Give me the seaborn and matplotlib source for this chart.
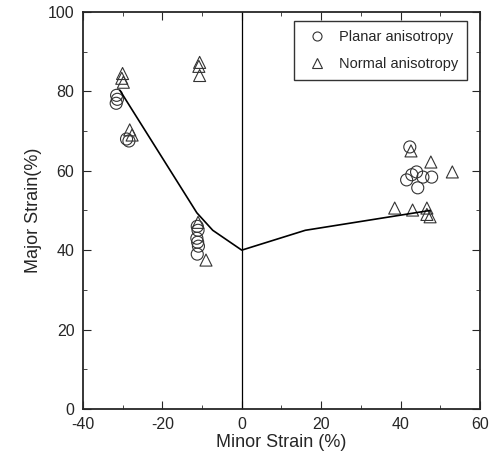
import numpy as np
import pandas as pd
import seaborn as sns
import matplotlib.pyplot as plt

# Planar anisotropy (circles)
planar_x = [-31.5, -31.3, -31.6, -29.0, -28.4, -11.2, -11.0, -11.3, -11.1, -10.9, -11.2,
            42.3, 41.5, 42.8, 44.0, 45.6, 47.8, 44.3]
planar_y = [79.0, 78.0, 77.0, 68.0, 67.5, 46.0, 45.0, 43.0, 42.0, 41.0, 39.0,
            66.0, 57.7, 59.0, 59.7, 58.4, 58.4, 55.7]

# Normal anisotropy (triangles)
normal_x = [-30.0, -30.2, -29.8, -28.2, -27.6, -10.6, -10.8, -10.6, -11.0, -9.0,
            42.6, 47.6, 53.0, 38.5, 43.0, 46.6, 47.4, 46.6]
normal_y = [84.5, 83.3, 82.3, 70.3, 69.0, 87.3, 86.3, 84.0, 47.0, 37.5,
            65.0, 62.2, 59.7, 50.6, 50.1, 50.6, 48.4, 49.0]

# forming limit curve
curve_x = [-30.7, -11.3, -7.3, 0.0, 16.0, 47.4]
curve_y = [80.3, 49.4, 45.0, 40.0, 45.0, 50.0]

df = pd.DataFrame({
    'minor': planar_x + normal_x,
    'major': planar_y + normal_y,
    'type': ['Planar anisotropy'] * len(planar_x) + ['Normal anisotropy'] * len(normal_x),
})

sns.set_style("ticks")
plt.rcParams['font.family'] = ['Liberation Sans', 'DejaVu Sans']
plt.rcParams['axes.unicode_minus'] = False

fig = plt.figure(figsize=(4.96, 4.61), dpi=100)
ax = fig.add_axes([0.167, 0.113, 0.801, 0.861])

ax.axvline(0, color='black', lw=0.9)
sns.lineplot(x=curve_x, y=curve_y, color='black', lw=1.2, ax=ax, sort=False)
sns.scatterplot(data=df, x='minor', y='major', style='type', markers=['o', '^'],
                s=75, facecolor='none', edgecolor='#333333', linewidth=0.8,
                color='#333333', ax=ax)

ax.set_xlim(-40, 60)
ax.set_ylim(0, 100)
ax.set_xticks([-40, -20, 0, 20, 40, 60])
ax.set_yticks([0, 20, 40, 60, 80, 100])
ax.set_xticks(np.arange(-30, 60, 20), minor=True)
ax.set_yticks(np.arange(10, 100, 20), minor=True)
ax.tick_params(direction='in', which='both', top=True, right=True, labelsize=11.5, pad=6)
ax.tick_params(which='major', length=6)
ax.tick_params(which='minor', length=3)
for s in ax.spines.values():
    s.set_linewidth(1.3)

ax.set_xlabel('Minor Strain (%)', fontsize=13, labelpad=1)
ax.set_ylabel('Major Strain(%)', fontsize=13, labelpad=4)

leg = ax.legend(title=None, loc='upper right', fontsize=10.5, frameon=True,
                fancybox=False, edgecolor='black', handletextpad=0.5,
                borderpad=0.6, labelspacing=0.9, markerscale=0.75,
                bbox_to_anchor=(0.985, 0.995))
leg.get_frame().set_linewidth(1.0)
for h in leg.legend_handles:
    h.set_markerfacecolor('none')
    h.set_markeredgecolor('#333333')

fig.savefig('out.png', dpi=100)
